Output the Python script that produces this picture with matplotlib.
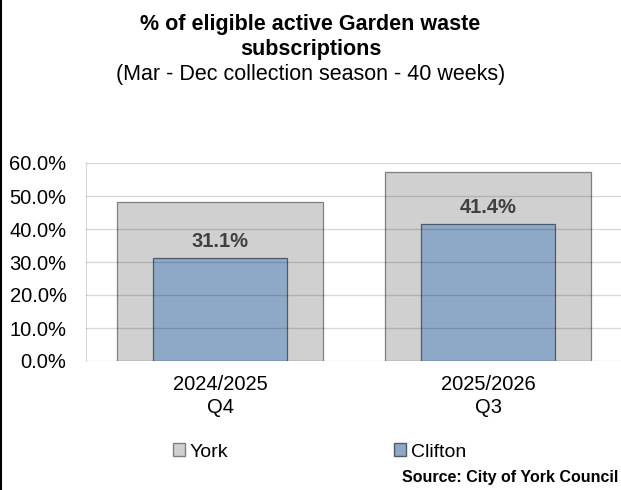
import matplotlib.pyplot as plt
from matplotlib.patches import Patch
from matplotlib.lines import Line2D

plt.rcParams['font.family'] = ['Liberation Sans', 'DejaVu Sans']

# data
periods = ['2024/2025\nQ4', '2025/2026\nQ3']
york = [48.2, 57.3]
clifton = [31.1, 41.4]
series_names = ['York', 'Clifton']

york_col = '#D0D0D0'
clifton_col = '#8EA9C8'

W, H = 621, 490
fig = plt.figure(figsize=(W / 100, H / 100), dpi=100)
ax = fig.add_axes([86 / W, 1 - 361 / H, 540 / W, 198 / H])

x = range(len(periods))
ax.bar(x, york, width=0.77, color=york_col, edgecolor='#7F7F7F', linewidth=0.9, zorder=1)
ax.bar(x, clifton, width=0.50, color=clifton_col, edgecolor='#4F5A66', linewidth=0.9, zorder=2)

# gridlines drawn over the bars, semi transparent
for v in range(0, 70, 10):
    ax.axhline(v, color='black', alpha=0.15, linewidth=1.0, zorder=3)

for i, v in enumerate(clifton):
    ax.annotate(f'{v:.1f}%', (i, v), xytext=(0, 8), textcoords='offset points',
                ha='center', va='baseline', fontsize=14.5, fontweight='bold', color='#404040')

ax.set_xlim(-0.5, 1.5 + 4 / 270)
ax.set_ylim(0, 60)
ax.set_yticks(range(0, 70, 10))
ax.set_yticklabels([f'{v:.1f}%' for v in range(0, 70, 10)], fontsize=14.5, color='black')
ax.set_xticks(list(x))
ax.set_xticklabels(periods, fontsize=14.5, color='black', linespacing=1.27)
ax.tick_params(length=0)
ax.tick_params(axis='x', pad=10)
ax.tick_params(axis='y', pad=14)
for s in ['top', 'right', 'bottom']:
    ax.spines[s].set_visible(False)
ax.spines['left'].set_color('#D9D9D9')

# titles
fig.text(0.5, 1 - 30 / H, '% of eligible active Garden waste', ha='center', va='baseline',
         fontsize=15.5, fontweight='bold')
fig.text(0.5, 1 - 55 / H, 'subscriptions', ha='center', va='baseline',
         fontsize=15.5, fontweight='bold')
fig.text(0.5, 1 - 80 / H, '(Mar - Dec collection season - 40 weeks)', ha='center', va='baseline',
         fontsize=15.5)

handles = [Patch(facecolor=york_col, edgecolor='#7F7F7F'),
           Patch(facecolor=clifton_col, edgecolor='#4F5A66')]
fig.legend(handles, series_names, loc='center left', bbox_to_anchor=(173 / W, 1 - 452 / H), ncol=2,
           frameon=False, fontsize=14, handlelength=0.62, handleheight=0.62, borderpad=0,
           borderaxespad=0, handletextpad=0.25, columnspacing=8.5)

fig.text(618 / W, 1 - 482 / H, 'Source: City of York Council', ha='right', va='baseline',
         fontsize=11.5, fontweight='bold')

fig.add_artist(Line2D([0.002, 0.002], [0, 1], color='black', linewidth=1.5,
                      transform=fig.transFigure))

plt.savefig('out.png', dpi=100)
